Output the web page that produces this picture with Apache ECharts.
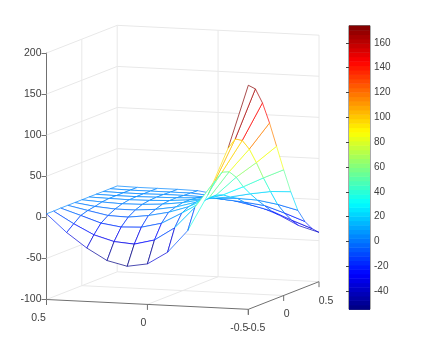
<!DOCTYPE html>
<html><head><meta charset="utf-8">
<style>html,body{margin:0;padding:0;background:#fff}#c{width:423px;height:347px}</style>
<script src="https://cdn.jsdelivr.net/npm/echarts@6/dist/echarts.min.js"></script>
</head><body><div id="c"></div>
<script>
const xTicks=[0.5,0,-0.5];
const yTicks=[-0.5,0,0.5];
const zTicks=[-100,-50,0,50,100,150,200];
const colorbarTicks=[-40,-20,0,20,40,60,80,100,120,140,160];
const xValues=[0.5,0.4,0.3,0.2,0.1,0,-0.1,-0.2,-0.3,-0.4,-0.5];
const yValues=[-0.5,-0.4,-0.3,-0.2,-0.1,0,0.1,0.2,0.3,0.4,0.5];
// z at each x value, one row per y value
const zAtY0=[4.3,-17.3,-35,-49,-54.8,-50.7,-35.3,-7.7,37,95,172.7];
const zAtY1=[4.2,-10,-22.3,-29.3,-31.2,-25,-9,17,50.7,102.8,164.9];
const zAtY2=[4.5,-3.3,-11.4,-15,-14,-8,5.5,20,58,97.7,144.5];
const zAtY3=[4.5,-0.6,-5.5,-6.3,-3.2,2,10,22,55,83.8,116.7];
const zAtY4=[4.5,1,-1,-1,1,5,12,22,45,64,85];
const zAtY5=[4.5,3,2,2.5,4,7,12,19,30,42,53];
const zAtY6=[4.5,4,3.5,4,5,7,10,13,18,22,23];
const zAtY7=[4.5,4,4,4.5,5,6,7,8,7,3,-3];
const zAtY8=[4.5,4,4,4.5,4.5,4,2,0,-3,-11,-20];
const zAtY9=[4.5,4,4,4,4,2,-2,-7,-13,-23,-32];
const zAtY10=[4.5,4,4,4,3.5,0,-6,-12,-21,-33,-40];
const surface=[zAtY0,zAtY1,zAtY2,zAtY3,zAtY4,zAtY5,zAtY6,zAtY7,zAtY8,zAtY9,zAtY10];
const colorLimits=[-54.6,173.8];
const bandCount=64;

function jet(t){
  t=Math.max(0,Math.min(1,t));
  const f=(a)=>Math.round(255*Math.max(0,Math.min(1,1.5-Math.abs(4*t-a))));
  return 'rgb('+f(3)+','+f(2)+','+f(1)+')';
}
const zColor=z=>jet((z-colorLimits[0])/(colorLimits[1]-colorLimits[0]));
// oblique view: horizontal value u in [0,1], vertical value in z-axis units
const project=(x,y,z)=>[(0.5-x)*0.7406+(y+0.5)*0.2594, z-(0.5-x)*11.95+(y+0.5)*33.66];

const GRID='#e8e8e8',AXIS='#707070',TEXT='#404040',FONT='10.5px "Liberation Sans",Arial,sans-serif';
const Z0=zTicks[0],Z1=zTicks[zTicks.length-1];
const gridSegs=[];
zTicks.forEach(z=>{gridSegs.push([0.5,-0.5,z,0.5,0.5,z]);gridSegs.push([0.5,0.5,z,-0.5,0.5,z]);});
[0,0.5].forEach(y=>gridSegs.push([0.5,y,Z0,0.5,y,Z1]));
[0,-0.5].forEach(x=>gridSegs.push([x,0.5,Z0,x,0.5,Z1]));
gridSegs.push([0,-0.5,Z0,0,0.5,Z0]);
gridSegs.push([0.5,0,Z0,-0.5,0,Z0]);
const axisSegs=[[0.5,-0.5,Z0,-0.5,-0.5,Z0],[-0.5,-0.5,Z0,-0.5,0.5,Z0]];
const tickPts=[];
xTicks.forEach(v=>tickPts.push([v,-0.5,Z0]));
yTicks.forEach(v=>tickPts.push([-0.5,v,Z0]));
const tickLabels=[
 [xTicks[0],-0.5,'0.5',-8,19],[xTicks[1],-0.5,'0',-4,19],[xTicks[2],-0.5,'-0.5',-9,19],
 [-0.5,yTicks[0],'-0.5',8,19],[-0.5,yTicks[1],'0',3,19],[-0.5,yTicks[2],'0.5',7,19]
];
const cells=[];
for(let i=0;i<xValues.length-1;i++)for(let j=yValues.length-2;j>=0;j--)cells.push([i,j]);

const segItem=(api,s,color)=>{
  const a=api.coord(project(s[0],s[1],s[2])),b=api.coord(project(s[3],s[4],s[5]));
  return {type:'line',shape:{x1:a[0],y1:a[1],x2:b[0],y2:b[1]},style:{stroke:color,lineWidth:1,fill:null}};
};
// each mesh edge takes one flat colour, from the vertex with the lower x / lower y
function edge(api,i1,j1,i2,j2,ci,cj){
  const a=api.coord(project(xValues[i1],yValues[j1],surface[j1][i1])),b=api.coord(project(xValues[i2],yValues[j2],surface[j2][i2]));
  return {type:'line',shape:{x1:a[0],y1:a[1],x2:b[0],y2:b[1]},
    style:{fill:null,lineWidth:1,opacity:0.7,stroke:zColor(surface[cj][ci])}};
}
const xy={xAxisIndex:0,yAxisIndex:0,coordinateSystem:'cartesian2d',silent:true};
const option={
  animation:false,
  grid:[{left:46.5,top:53,width:272.5,height:246.5,show:false},
        {left:349,top:25.7,width:21,height:283.6,show:true,borderColor:'#555',borderWidth:1,backgroundColor:'transparent'}],
  xAxis:[{gridIndex:0,type:'value',min:0,max:1,show:false},
         {gridIndex:1,type:'value',min:0,max:1,show:false}],
  yAxis:[{gridIndex:0,type:'value',min:Z0,max:Z1,interval:50,splitLine:{show:false},
          axisLine:{show:true,onZero:false,lineStyle:{color:AXIS}},axisTick:{show:true,length:5,lineStyle:{color:AXIS}},
          axisLabel:{color:TEXT,fontSize:10.5,fontFamily:'Liberation Sans',margin:5,padding:[2,0,0,0]}},
         {gridIndex:1,type:'value',position:'right',min:colorLimits[0],max:colorLimits[1],splitLine:{show:false},
          axisLine:{show:false},
          axisTick:{show:true,inside:true,length:3,customValues:colorbarTicks,lineStyle:{color:'#444'}},
          axisLabel:{color:TEXT,fontSize:10,fontFamily:'Liberation Sans',margin:4,padding:[2,0,0,0],customValues:colorbarTicks}}],
  series:[
   {type:'custom',...xy,z:1,data:gridSegs,renderItem:(p,api)=>segItem(api,gridSegs[p.dataIndex],GRID)},
   {type:'custom',...xy,z:2,data:axisSegs,renderItem:(p,api)=>segItem(api,axisSegs[p.dataIndex],AXIS)},
   {type:'custom',...xy,z:2,data:tickPts,renderItem:(p,api)=>{
      const t=tickPts[p.dataIndex],a=api.coord(project(t[0],t[1],t[2]));
      return {type:'line',shape:{x1:a[0],y1:a[1],x2:a[0],y2:a[1]+5.5},style:{stroke:AXIS,lineWidth:1,fill:null}};}},
   {type:'custom',...xy,z:3,data:tickLabels,renderItem:(p,api)=>{
      const t=tickLabels[p.dataIndex],a=api.coord(project(t[0],t[1],Z0));
      return {type:'text',x:a[0]+t[3],y:a[1]+t[4],style:{text:t[2],fill:TEXT,font:FONT,align:'center',verticalAlign:'middle'}};}},
   {type:'custom',...xy,z:4,progressive:0,data:cells,renderItem:(p,api)=>{
      const [i,j]=cells[p.dataIndex];
      const pts=[[i,j],[i+1,j],[i+1,j+1],[i,j+1]].map(c=>api.coord(project(xValues[c[0]],yValues[c[1]],surface[c[1]][c[0]])));
      return {type:'group',children:[
        {type:'polygon',shape:{points:pts},style:{fill:'#fff',stroke:null}},
        edge(api,i,j,i+1,j,i+1,j),edge(api,i+1,j,i+1,j+1,i+1,j),edge(api,i+1,j+1,i,j+1,i+1,j+1),edge(api,i,j+1,i,j,i,j)]};}},
   {type:'custom',coordinateSystem:'cartesian2d',xAxisIndex:1,yAxisIndex:1,silent:true,z:1,
    data:Array.from({length:bandCount},(_,k)=>[k]),renderItem:(p,api)=>{
      const k=p.dataIndex,L=colorLimits,h=(L[1]-L[0])/bandCount;
      const a=api.coord([0,L[0]+(k+1)*h]),b=api.coord([1,L[0]+k*h]);
      return {type:'rect',shape:{x:a[0],y:a[1],width:b[0]-a[0],height:b[1]-a[1]+0.5},style:{fill:jet((k+0.5)/bandCount),stroke:null}};}}
  ]
};
echarts.init(document.getElementById('c'),null,{renderer:'canvas'}).setOption(option);
</script></body></html>
